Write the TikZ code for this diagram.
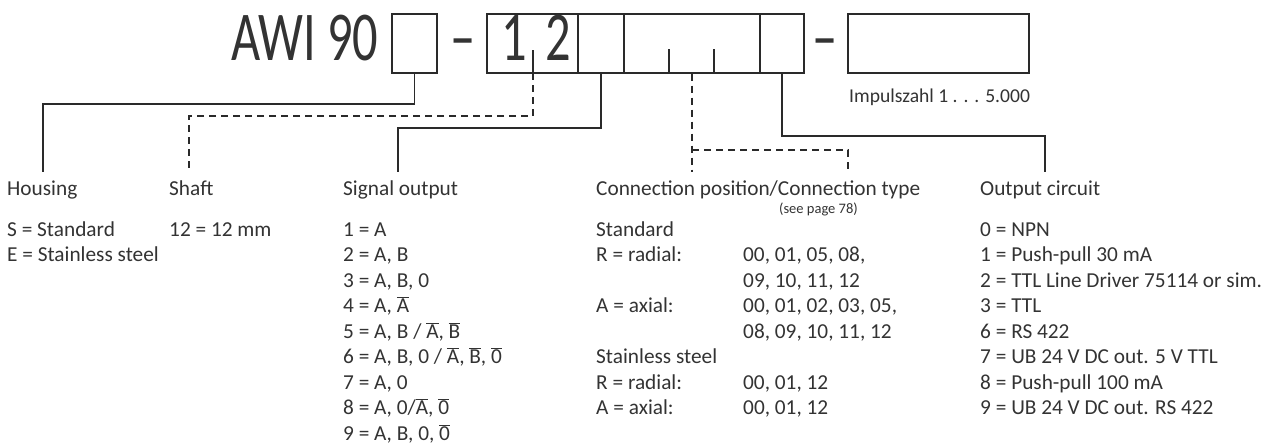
\documentclass[tikz,border=0pt]{standalone}
\usepackage{fontspec}
\setmainfont{Carlito}
\usepackage{graphicx}
\definecolor{ink}{HTML}{2A2A2A}
\definecolor{txt}{HTML}{333333}
\newcommand\ovl[1]{\ensuremath{\overline{\mbox{#1}}}}
\begin{document}
\begin{tikzpicture}[x=1pt,y=-1pt,
  font=\fontsize{21.3}{25.5}\selectfont, text=txt,
  box/.style={draw=ink, line width=1.3pt, inner sep=0pt, minimum height=59pt},
  conn/.style={draw=ink, line width=1.4pt},
  dconn/.style={conn, dash pattern=on 7pt off 5pt},
  lbl/.style={anchor=base west, inner sep=0pt},
  big/.style={inner sep=0pt, font=\fontsize{70}{70}\selectfont}]
\useasboundingbox (0,0) rectangle (1265,447);
% code boxes
\node[big, anchor=base west] (awi) at (231,60) {\scalebox{0.72}[1]{AWI 90}};
\node[box, minimum width=45pt] (b1) at (414.5,43.5) {};
\node[big, anchor=base] (d1) at (463,60) {\scalebox{0.72}[1]{–}};
\node[box, minimum width=91pt] (c1) at (532.5,43.5) {};
\node[box, minimum width=46pt] (c2) at (601,43.5) {};
\node[box, minimum width=136pt] (c3) at (692,43.5) {};
\node[box, minimum width=44pt] (c4) at (782,43.5) {};
\node[big, anchor=base] (d2) at (825,60) {\scalebox{0.72}[1]{–}};
\node[box, minimum width=181pt] (b5) at (938.5,43.5) {};
\node[big, anchor=base] (one) at (514,60) {\scalebox{0.72}[1]{1}};
\node[big, anchor=base] (two) at (558,60) {\scalebox{0.72}[1]{2}};
\draw[conn] (669,49) -- (669,73);
\draw[conn] (714,49) -- (714,73);
\node[lbl, font=\fontsize{19.6}{24}\selectfont] (imp) at (849,102) {Impulszahl 1 . . . 5.000};
% titles
\node[lbl] (thou) at (7,195) {Housing};
\node[lbl] (tsha) at (169,195) {Shaft};
\node[lbl] (tsig) at (343,195) {Signal output};
\node[lbl] (tcon) at (596,195) {Connection position/Connection type};
\node[anchor=base east, inner sep=0pt, font=\fontsize{14.5}{16}\selectfont] (see) at (858,213) {(see page 78)};
\node[lbl] (tout) at (980,195) {Output circuit};
% connector ends
\coordinate (ehou) at (43,172);
\coordinate (esha) at (189,172);
\coordinate (esig) at (398,172);
\coordinate (econ1) at (692,172);
\coordinate (econ2) at (848,172);
\coordinate (eout) at (1045,172);
\coordinate (tick) at (533,50);
\coordinate (tickb) at (533,73);
% connectors
\draw[conn] (b1.south) |- (43,104) -- (ehou);
\draw[conn] (tick) -- (tickb);
\draw[dconn] (tickb) |- (189,116) -- (esha);
\draw[conn] (c2.south) |- (398,128) -- (esig);
\draw[dconn] (c3.south) -- (econ1);
\draw[dconn] (692,150) -| (econ2);
\draw[conn] (c4.south) |- (1045,136) -- (eout);
% lists
\node[lbl] (lhou) at (7,236) {\begin{tabular}[t]{@{}l@{}}S = Standard\\E = Stainless steel\end{tabular}};
\node[lbl] (lsha) at (169,236) {\begin{tabular}[t]{@{}l@{}}12 = 12 mm\end{tabular}};
\node[lbl] (lsig) at (343,236) {\begin{tabular}[t]{@{}l@{}}
1 = A\\
2 = A, B\\
3 = A, B, 0\\
4 = A, \ovl{A}\\
5 = A, B / \ovl{A}, \ovl{B}\\
6 = A, B, 0 / \ovl{A}, \ovl{B}, \ovl{0}\\
7 = A, 0\\
8 = A, 0/\ovl{A}, \ovl{0}\\
9 = A, B, 0, \ovl{0}\end{tabular}};
\node[lbl] (lcon) at (596,236) {\begin{tabular}[t]{@{}p{147pt}@{}l@{}}
Standard & \\
R = radial: & 00, 01, 05, 08,\\
 & 09, 10, 11, 12\\
A = axial: & 00, 01, 02, 03, 05,\\
 & 08, 09, 10, 11, 12\\
Stainless steel & \\
R = radial: & 00, 01, 12\\
A = axial: & 00, 01, 12\end{tabular}};
\node[lbl] (lout) at (980,236) {\begin{tabular}[t]{@{}l@{}}
0 = NPN\\
1 = Push-pull 30 mA\\
2 = TTL Line Driver 75114 or sim.\\
3 = TTL\\
6 = RS 422\\
7 = UB 24 V DC out. 5 V TTL\\
8 = Push-pull 100 mA\\
9 = UB 24 V DC out. RS 422\end{tabular}};
\end{tikzpicture}
\end{document}
